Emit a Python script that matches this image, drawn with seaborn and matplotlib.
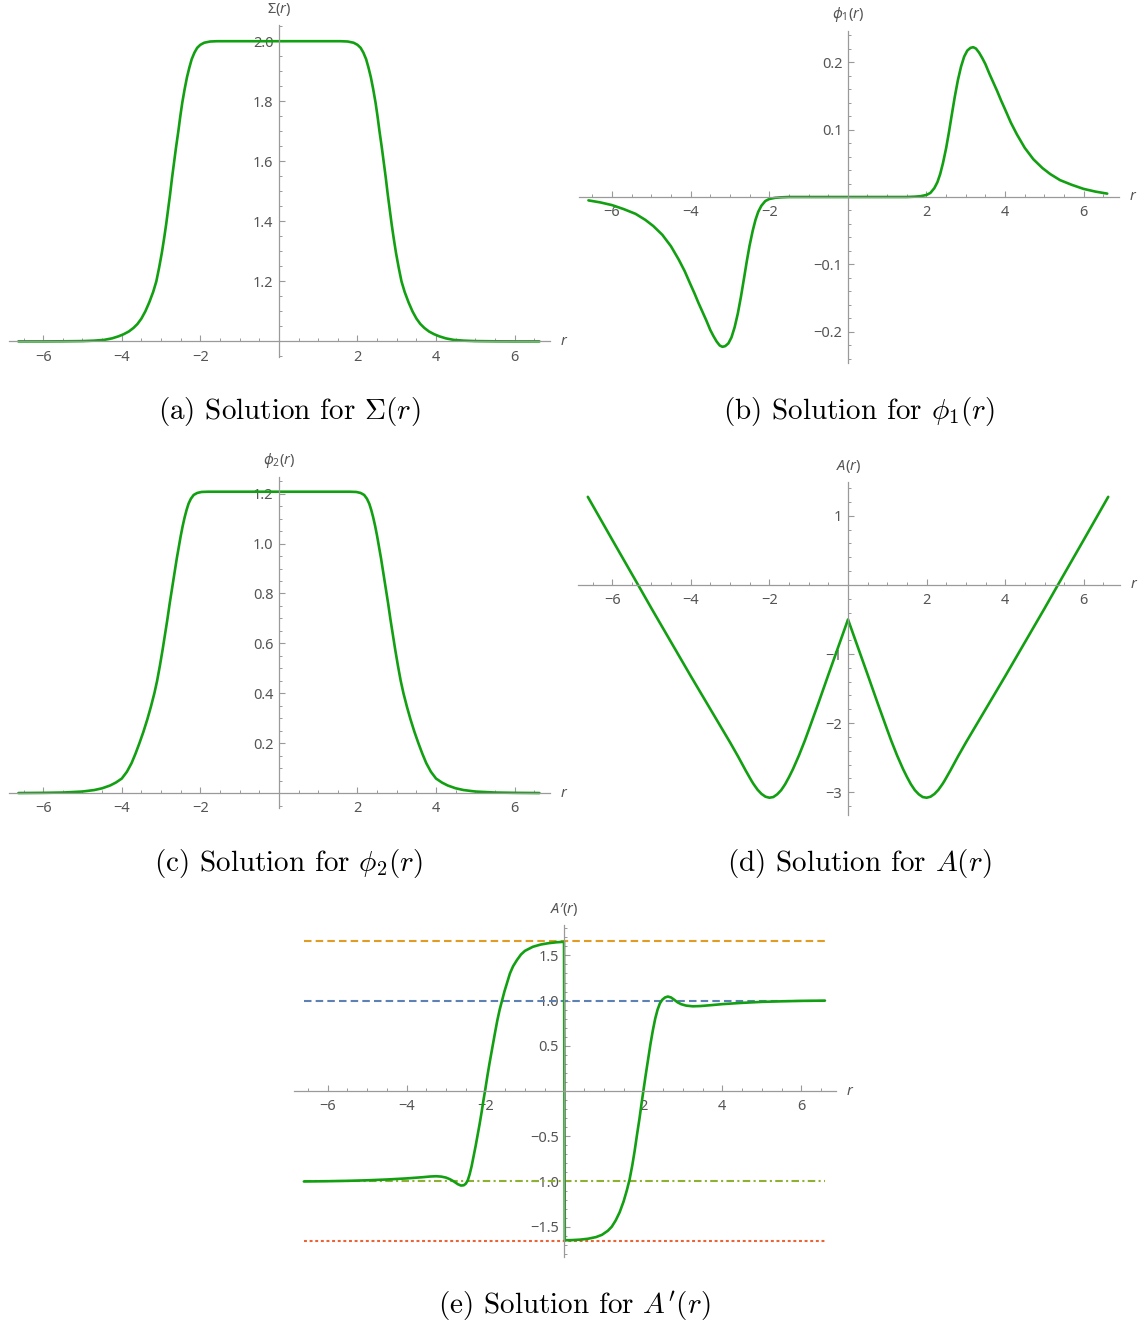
import numpy as np
import matplotlib
matplotlib.use("Agg")
import matplotlib.pyplot as plt
import seaborn as sns

# ---------------------------
# Data
# ---------------------------
sigma_r = [-6.63, -6.0, -5.5, -5.0, -4.7, -4.45, -4.25, -4.08, -3.95, -3.82,
           -3.7, -3.6, -3.5, -3.4, -3.3, -3.2, -3.12, -3.05, -2.98, -2.92,
           -2.87, -2.82, -2.77, -2.72, -2.67, -2.62, -2.56, -2.51, -2.46, -2.4,
           -2.34, -2.28, -2.22, -2.15, -2.08, -2.0, -1.9, -1.75, -1.57, -1.0,
           0.0,
           1.0, 1.57, 1.75, 1.9, 2.0, 2.08, 2.15, 2.22, 2.28, 2.34,
           2.4, 2.46, 2.51, 2.56, 2.62, 2.67, 2.72, 2.77, 2.82, 2.87,
           2.92, 2.98, 3.05, 3.12, 3.2, 3.3, 3.4, 3.5, 3.6, 3.7,
           3.82, 3.95, 4.08, 4.25, 4.45, 4.7, 5.0, 5.5, 6.0, 6.63]
sigma_v = [1.0, 1.0, 1.0003, 1.001, 1.0025, 1.005, 1.01, 1.017, 1.024, 1.033,
           1.045, 1.058, 1.076, 1.1, 1.13, 1.165, 1.2, 1.245, 1.295, 1.345,
           1.39, 1.44, 1.49, 1.545, 1.595, 1.645, 1.7, 1.75, 1.795, 1.84,
           1.88, 1.912, 1.94, 1.962, 1.978, 1.988, 1.995, 1.999, 2.0, 2.0,
           2.0,
           2.0, 2.0, 1.999, 1.995, 1.988, 1.978, 1.962, 1.94, 1.912, 1.88,
           1.84, 1.795, 1.75, 1.7, 1.645, 1.595, 1.545, 1.49, 1.44, 1.39,
           1.345, 1.295, 1.245, 1.2, 1.165, 1.13, 1.1, 1.076, 1.058, 1.045,
           1.033, 1.024, 1.017, 1.01, 1.005, 1.0025, 1.001, 1.0003, 1.0, 1.0]

phi1_r = [-6.6, -6.3, -6.0, -5.7, -5.4, -5.15, -4.95, -4.72, -4.5, -4.3,
          -4.15, -4.0, -3.9, -3.8, -3.7, -3.6, -3.5, -3.42, -3.34, -3.26,
          -3.19, -3.12, -3.04, -2.96, -2.88, -2.8, -2.72, -2.64, -2.57, -2.5,
          -2.42, -2.35, -2.28, -2.2, -2.1, -2.0, -1.85, -1.7, -1.5, 0.0,
          1.5, 1.7, 1.85, 2.0, 2.1, 2.2, 2.28, 2.35, 2.42, 2.5,
          2.57, 2.64, 2.72, 2.8, 2.88, 2.96, 3.04, 3.12, 3.19, 3.26,
          3.34, 3.42, 3.5, 3.6, 3.7, 3.8, 3.9, 4.0, 4.15, 4.3,
          4.5, 4.72, 4.95, 5.15, 5.4, 5.7, 6.0, 6.3, 6.6]
phi1_v = [-0.005, -0.008, -0.012, -0.018, -0.025, -0.034, -0.043, -0.056, -0.073, -0.093,
          -0.11, -0.13, -0.143, -0.157, -0.17, -0.183, -0.197, -0.206, -0.214, -0.22,
          -0.222, -0.221, -0.217, -0.208, -0.193, -0.173, -0.148, -0.12, -0.095, -0.072,
          -0.05, -0.034, -0.022, -0.013, -0.006, -0.003, -0.0012, -0.0005, 0.0, 0.0,
          0.0, 0.0005, 0.0012, 0.003, 0.006, 0.013, 0.022, 0.034, 0.05, 0.072,
          0.095, 0.12, 0.148, 0.173, 0.193, 0.208, 0.217, 0.221, 0.222, 0.22,
          0.214, 0.206, 0.197, 0.183, 0.17, 0.157, 0.143, 0.13, 0.11, 0.093,
          0.073, 0.056, 0.043, 0.034, 0.025, 0.018, 0.012, 0.008, 0.005]

phi2_r = [-6.63, -6.0, -5.5, -5.0, -4.7, -4.5, -4.3, -4.15, -4.0, -3.87,
          -3.75, -3.65, -3.55, -3.45, -3.35, -3.26, -3.17, -3.1, -3.03, -2.96,
          -2.9, -2.84, -2.78, -2.72, -2.66, -2.6, -2.55, -2.5, -2.45, -2.4,
          -2.35, -2.3, -2.24, -2.17, -2.08, -1.97, -1.8, -1.0, 0.0,
          1.0, 1.8, 1.97, 2.08, 2.17, 2.24, 2.3, 2.35, 2.4, 2.45,
          2.5, 2.55, 2.6, 2.66, 2.72, 2.78, 2.84, 2.9, 2.96, 3.03,
          3.1, 3.17, 3.26, 3.35, 3.45, 3.55, 3.65, 3.75, 3.87, 4.0,
          4.15, 4.3, 4.5, 4.7, 5.0, 5.5, 6.0, 6.63]
phi2_v = [0.0, 0.0008, 0.002, 0.006, 0.012, 0.019, 0.03, 0.042, 0.058, 0.085,
          0.12, 0.158, 0.2, 0.245, 0.295, 0.345, 0.4, 0.45, 0.51, 0.575,
          0.635, 0.695, 0.76, 0.82, 0.88, 0.94, 0.985, 1.03, 1.07, 1.105,
          1.135, 1.16, 1.18, 1.195, 1.203, 1.207, 1.208, 1.208, 1.208,
          1.208, 1.208, 1.207, 1.203, 1.195, 1.18, 1.16, 1.135, 1.105, 1.07,
          1.03, 0.985, 0.94, 0.88, 0.82, 0.76, 0.695, 0.635, 0.575, 0.51,
          0.45, 0.4, 0.345, 0.295, 0.245, 0.2, 0.158, 0.12, 0.085, 0.058,
          0.042, 0.03, 0.019, 0.012, 0.006, 0.002, 0.0008, 0.0]

a_r = [-6.62, -6.0, -5.34, -5.0, -4.5, -4.0, -3.5, -3.25, -3.0, -2.8,
       -2.6, -2.45, -2.4, -2.3, -2.2, -2.1, -2.0, -1.9, -1.8, -1.7,
       -1.6, -1.5, -1.4, -1.25, -1.1, -1.0, -0.75, -0.5, -0.25, 0.0,
       0.25, 0.5, 0.75, 1.0, 1.1, 1.25, 1.4, 1.5, 1.6, 1.7,
       1.8, 1.9, 2.0, 2.1, 2.2, 2.3, 2.4, 2.45, 2.6, 2.8,
       3.0, 3.25, 3.5, 4.0, 4.5, 5.0, 5.34, 6.0, 6.62]
a_v = [1.275, 0.655, 0.0, -0.34, -0.83, -1.32, -1.80, -2.04, -2.28, -2.48,
       -2.69, -2.84, -2.885, -2.965, -3.025, -3.065, -3.08, -3.07, -3.03, -2.97,
       -2.885, -2.78, -2.665, -2.47, -2.255, -2.10, -1.705, -1.30, -0.90, -0.50,
       -0.90, -1.30, -1.705, -2.10, -2.255, -2.47, -2.665, -2.78, -2.885, -2.97,
       -3.03, -3.07, -3.08, -3.065, -3.025, -2.965, -2.885, -2.84, -2.69, -2.48,
       -2.28, -2.04, -1.80, -1.32, -0.83, -0.34, 0.0, 0.655, 1.275]

# A'(r): jump at r = 0 kept as two points either side of the axis
da_r = [-6.6, -6.0, -5.5, -5.0, -4.5, -4.0, -3.6, -3.4, -3.25, -3.12,
        -3.0, -2.9, -2.8, -2.7, -2.62, -2.55, -2.5, -2.45, -2.4, -2.35,
        -2.3, -2.25, -2.2, -2.15, -2.1, -2.05, -2.0, -1.95, -1.9, -1.83,
        -1.76, -1.7, -1.64, -1.58, -1.52, -1.45, -1.38, -1.3, -1.2, -1.1,
        -1.0, -0.8, -0.6, -0.4, -0.2, -0.01,
        0.01, 0.2, 0.4, 0.6, 0.8, 0.95, 1.1, 1.2, 1.3, 1.4,
        1.5, 1.58, 1.65, 1.72, 1.78, 1.84, 1.9, 1.96, 2.0, 2.06,
        2.12, 2.18, 2.24, 2.3, 2.36, 2.42, 2.48, 2.55, 2.62, 2.7,
        2.78, 2.87, 2.96, 3.08, 3.25, 3.45, 3.7, 4.0, 4.5, 5.0,
        5.5, 6.0, 6.6]
da_v = [-1.0, -0.997, -0.993, -0.987, -0.978, -0.966, -0.953, -0.945, -0.942, -0.946,
        -0.957, -0.975, -1.0, -1.03, -1.045, -1.042, -1.025, -0.99, -0.92, -0.83,
        -0.72, -0.61, -0.49, -0.37, -0.24, -0.1, 0.03, 0.17, 0.3, 0.47,
        0.64, 0.78, 0.9, 1.0, 1.1, 1.2, 1.3, 1.38, 1.45, 1.51,
        1.55, 1.595, 1.62, 1.635, 1.645, 1.65,
        -1.65, -1.648, -1.643, -1.633, -1.615, -1.59, -1.545, -1.5, -1.43, -1.34,
        -1.22, -1.1, -0.98, -0.82, -0.66, -0.48, -0.31, -0.12, 0.0, 0.18,
        0.35, 0.52, 0.67, 0.8, 0.9, 0.97, 1.01, 1.035, 1.045, 1.035,
        1.01, 0.98, 0.96, 0.945, 0.937, 0.94, 0.949, 0.961, 0.975, 0.986,
        0.992, 0.997, 1.0]

ref_levels = [1.655, 1.0, -1.0, -1.66]
ref_colors = ["#E19C24", "#5E81B5", "#8FB032", "#EB6235"]
ref_dashes = [(3.6, 2.0), (3.6, 2.0), (3.6, 1.6, 1.0, 1.6), (1.4, 1.3)]

captions = [r"(a) Solution for $\Sigma(r)$", r"(b) Solution for $\phi_1(r)$",
            r"(c) Solution for $\phi_2(r)$", r"(d) Solution for $A(r)$",
            r"(e) Solution for $A'(r)$"]

# ---------------------------
# Style
# ---------------------------
sns.set_style("white")
plt.rcParams['font.family'] = ['Noto Sans', 'DejaVu Sans']
plt.rcParams['mathtext.fontset'] = 'custom'
plt.rcParams['mathtext.rm'] = 'Noto Sans'
plt.rcParams['mathtext.it'] = 'Noto Sans:italic'

GREEN = "#12A012"
AXC = "#9a9a9a"
TXT = "#555555"
W, H = 1138, 1327

fig = plt.figure(figsize=(W / 100, H / 100), dpi=100)
fig.patch.set_facecolor("white")


def px_axes(x0, x1, y0, y1):
    return fig.add_axes([x0 / W, 1 - y1 / H, (x1 - x0) / W, (y1 - y0) / H])


def style_axes(ax, xlim, ylim, y_cross, yticks, ylabels, yminor, ylab):
    ax.set_xlim(xlim)
    ax.set_ylim(ylim)
    ax.set_facecolor("none")
    for s in ["top", "right"]:
        ax.spines[s].set_visible(False)
    ax.spines["bottom"].set_position(("data", y_cross))
    ax.spines["left"].set_position(("data", 0))
    for s in ["bottom", "left"]:
        ax.spines[s].set_color(AXC)
        ax.spines[s].set_linewidth(0.9)
    ax.set_xticks([-6, -4, -2, 2, 4, 6])
    ax.set_xticklabels(["\u22126", "\u22124", "\u22122", "2", "4", "6"])
    xminor = [v for v in np.arange(-6.5, 6.51, 0.5) if abs(v) > 1e-9]
    ax.set_xticks(xminor, minor=True)
    ax.set_yticks(yticks)
    ax.set_yticklabels(ylabels)
    ax.set_yticks(yminor, minor=True)
    ax.tick_params(which="both", direction="in", color=AXC, labelcolor=TXT,
                   labelsize=10.5, bottom=True, left=True, top=False, right=False)
    ax.tick_params(which="major", length=4.0, width=0.8)
    ax.tick_params(which="minor", length=2.3, width=0.7)
    ax.tick_params(axis="x", which="major", pad=6.0)
    ax.tick_params(axis="y", which="major", pad=4.0)
    ax.set_xlabel("")
    ax.set_ylabel("")
    ax.annotate(ylab, xy=(0, 1), xycoords=("data", "axes fraction"),
                xytext=(0, 5), textcoords="offset points", ha="center",
                va="bottom", fontsize=10.5, color=TXT)
    ax.annotate("$r$", xy=(1, y_cross), xycoords=("axes fraction", "data"),
                xytext=(7, 0), textcoords="offset points", ha="left",
                va="center", fontsize=10.5, color=TXT)


def minors(lo, hi, step, skip):
    return [v for v in np.arange(lo, hi + step / 2, step) if abs(v - skip) > 1e-9]


# (a) Sigma
ax = px_axes(9, 550, 25, 357)
sns.lineplot(x=sigma_r, y=sigma_v, ax=ax, color=GREEN, linewidth=1.9,
             sort=False, estimator=None)
style_axes(ax, (-6.87, 6.90), (0.948, 2.054), 1.0,
           [1.2, 1.4, 1.6, 1.8, 2.0], ["1.2", "1.4", "1.6", "1.8", "2.0"],
           minors(0.95, 2.05, 0.05, 1.0), r"$\Sigma(r)$")

# (b) phi_1
ax = px_axes(579, 1119, 31, 363)
sns.lineplot(x=phi1_r, y=phi1_v, ax=ax, color=GREEN, linewidth=1.9,
             sort=False, estimator=None)
style_axes(ax, (-6.84, 6.90), (-0.246, 0.246), 0.0,
           [-0.2, -0.1, 0.1, 0.2], ["\u22120.2", "\u22120.1", "0.1", "0.2"],
           minors(-0.24, 0.24, 0.02, 0.0), r"$\phi_1(r)$")

# (c) phi_2
ax = px_axes(9, 550, 477, 808)
sns.lineplot(x=phi2_r, y=phi2_v, ax=ax, color=GREEN, linewidth=1.9,
             sort=False, estimator=None)
style_axes(ax, (-6.87, 6.90), (-0.06, 1.267), 0.0,
           [0.2, 0.4, 0.6, 0.8, 1.0, 1.2], ["0.2", "0.4", "0.6", "0.8", "1.0", "1.2"],
           minors(-0.05, 1.25, 0.05, 0.0), r"$\phi_2(r)$")

# (d) A
ax = px_axes(578, 1120, 482, 815)
sns.lineplot(x=a_r, y=a_v, ax=ax, color=GREEN, linewidth=1.9,
             sort=False, estimator=None)
style_axes(ax, (-6.87, 6.92), (-3.33, 1.49), 0.0,
           [-3, -2, -1, 1], ["\u22123", "\u22122", "\u22121", "1"],
           minors(-3.2, 1.4, 0.2, 0.0), r"$A(r)$")

# (e) A'
ax = px_axes(294, 836, 925, 1257)
for lvl, col, dsh in zip(ref_levels, ref_colors, ref_dashes):
    ax.hlines(lvl, min(da_r), max(da_r), colors=col, linewidth=1.5,
              linestyles=(0, dsh))
sns.lineplot(x=da_r, y=da_v, ax=ax, color=GREEN, linewidth=1.9,
             sort=False, estimator=None)
style_axes(ax, (-6.85, 6.88), (-1.835, 1.836), 0.0,
           [-1.5, -1.0, -0.5, 0.5, 1.0, 1.5],
           ["\u22121.5", "\u22121.0", "\u22120.5", "0.5", "1.0", "1.5"],
           minors(-1.8, 1.8, 0.1, 0.0), "$A$\u2032($r$)")

# captions
cap_pos = [(289, 412), (859, 412), (289, 863), (859, 863), (574, 1306)]
for (cx, cy), txt in zip(cap_pos, captions):
    fig.text(cx / W, 1 - cy / H, txt, ha="center", va="center",
             fontsize=21, family="cmr10", math_fontfamily="cm", color="black")

fig.savefig("out.png", dpi=100, facecolor="white")
